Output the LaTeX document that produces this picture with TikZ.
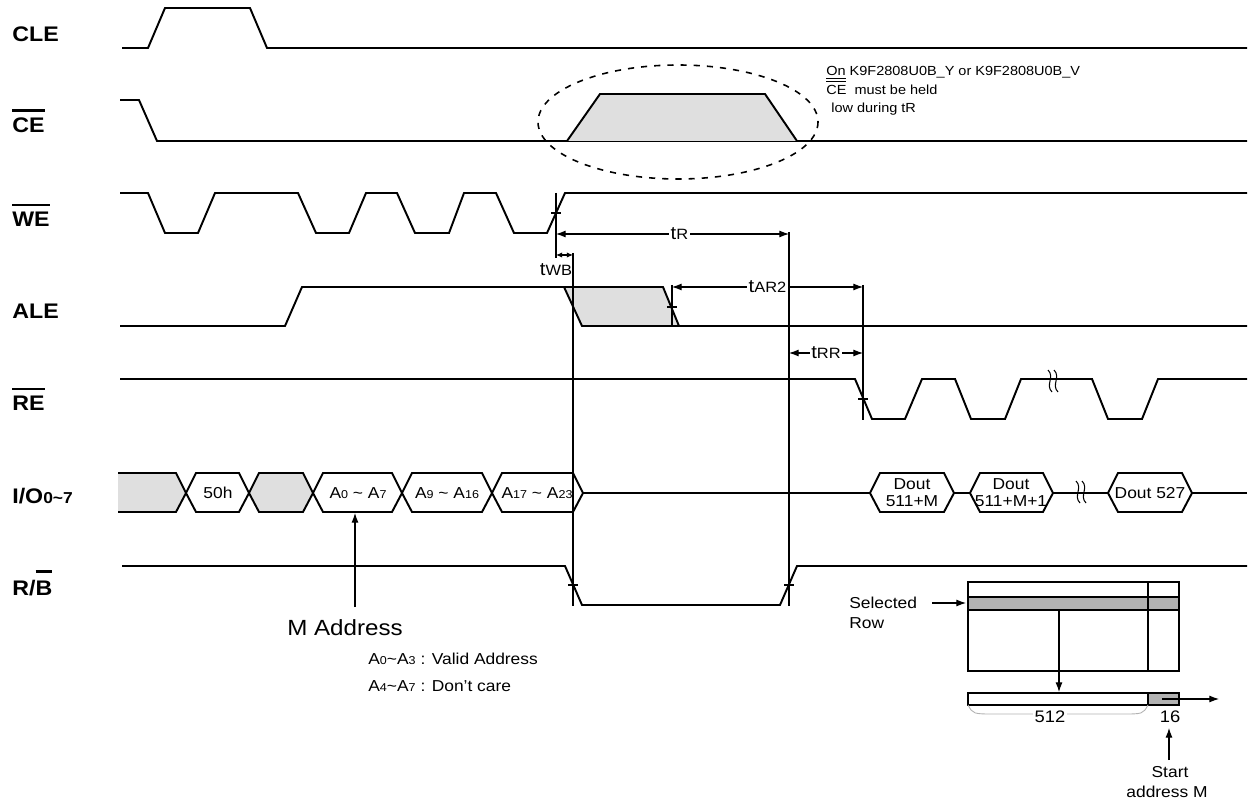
\documentclass[tikz,border=0pt]{standalone}
\usepackage{fontspec}
\setmainfont{Liberation Sans}[FakeStretch=1.1]
\usetikzlibrary{arrows.meta}

\newcommand\barred[3]{\vbox{\hrule height #1\kern #2\hbox{#3}}}
\newcommand\sml[1]{{\fontsize{6.5}{7}\selectfont #1}}
\newcommand\tlab[1]{t{\fontsize{8.5}{8.5}\selectfont #1}}

\begin{document}
\begin{tikzpicture}
[x=0.02cm,y=-0.02cm,>={Latex[length=5.5pt,width=4pt]},
  sig/.style={line width=1.1pt},
  thin line/.style={line width=0.6pt},
  sig name/.style={anchor=base west,inner sep=0pt,font=\fontsize{12}{12}\selectfont\bfseries},
  bus text/.style={inner sep=0pt,font=\fontsize{9}{9.6}\selectfont,align=center},
  time label/.style={fill=white,inner sep=1pt,font=\fontsize{10.5}{10.5}\selectfont},
  small text/.style={anchor=base west,inner sep=0pt,font=\fontsize{9}{9}\selectfont},
  note text/.style={anchor=base west,inner sep=0pt,font=\fontsize{7.5}{7.5}\selectfont},
  dont care/.style={fill=gray!25},
  row fill/.style={fill=gray!60}]

  \useasboundingbox (0,0) rectangle (1248,800);

  % signal names
  \node [sig name] (cle)  at (12,42)  {CLE};
  \node [sig name] (ce)   at (12,133) {\barred{1.2pt}{3.8pt}{CE}};
  \node [sig name] (we)   at (12,227) {\barred{1.2pt}{3.8pt}{WE}};
  \node [sig name] (ale)  at (12,319) {ALE};
  \node [sig name] (re)   at (12,411) {\barred{1.2pt}{3.8pt}{RE}};
  \node [sig name] (io)   at (12,503) {I/O{\fontsize{9}{9}\selectfont 0\textasciitilde7}};
  \node [sig name] (rb)   at (12,595) {R/\barred{1.2pt}{4.5pt}{B}};

  % waveforms
  \draw [sig] (122,48) -- (148,48) -- (165,8) -- (250,8) -- (267,48) -- (1247,48);
  \draw [sig] (120,100) -- (139,100) -- (157,141) -- (1247,141);
  \fill [dont care] (567,141) -- (600,94) -- (765,94) -- (797,141) -- cycle;
  \draw [sig] (567,141) -- (600,94) -- (765,94) -- (797,141);
  \draw [sig] (120,193) -- (148,193) -- (165,233) -- (198,233) -- (215,193) -- (298,193)
    -- (316,233) -- (349,233) -- (366,193) -- (397,193) -- (415,233) -- (449,233)
    -- (464,193) -- (496,193) -- (514,233) -- (547,233) -- (565,193) -- (1247,193);
  \fill [dont care] (564,287) -- (663,287) -- (679,326) -- (582,326) -- cycle;
  \draw [sig] (120,326) -- (285,326) -- (302,287) -- (564,287) -- (582,326) -- (1247,326);
  \draw [sig] (564,287) -- (663,287) -- (679,326);
  \draw [sig] (120,379) -- (855,379) -- (872,419) -- (905,419) -- (922,379) -- (955,379)
    -- (971,419) -- (1005,419) -- (1021,379) -- (1092,379) -- (1108,419) -- (1142,419)
    -- (1158,379) -- (1247,379);
  \draw [sig] (122,566) -- (565,566) -- (582,605) -- (780,605) -- (797,566) -- (1247,566);

  % I/O bus
  \fill [dont care] (118,473) -- (176,473) -- (186,493) -- (176,512) -- (118,512) -- cycle;
  \fill [dont care] (249,493) -- (259,473) -- (303,473) -- (313,493) -- (303,512) -- (259,512) -- cycle;
  \draw [sig] (118,473) -- (176,473) -- (186,493) -- (176,512) -- (118,512);
  \foreach \a/\b in {186/249,249/313,313/402,402/492,492/583,870/954,970/1053,1108/1192}
    \draw [sig] (\a,493) -- (\a+10,473) -- (\b-10,473) -- (\b,493) -- (\b-10,512) -- (\a+10,512) -- cycle;
  \foreach \a/\b in {583/870,954/970,1053/1108,1192/1247}
    \draw [sig] (\a,493) -- (\b,493);
  \node [bus text] (cmd)  at (218,493) {50h};
  \node [bus text] (col)  at (358,493) {A\sml{0} \textasciitilde{} A\sml{7}};
  \node [bus text] (row1) at (447,493) {A\sml{9} \textasciitilde{} A\sml{16}};
  \node [bus text] (row2) at (537,493) {A\sml{17} \textasciitilde{} A\sml{23}};
  \node [bus text] (d1)   at (912,493) {Dout\\511+M};
  \node [bus text] (d2)   at (1011,493) {Dout\\511+M+1};
  \node [bus text] (d3)   at (1150,493) {Dout 527};

  % breaks
  \foreach \x/\y in {1050/381,1056/381,1078/492,1084/492}
    \draw [thin line] (\x-2,\y-11) .. controls (\x+5,\y-4) and (\x-5,\y+4) .. (\x+2,\y+11);

  % CE note
  \draw [line width=0.9pt,dash pattern=on 3.5pt off 4pt] (678,122) ellipse (140 and 57);
  \node [note text] (note1) at (826,76)  {\underline{On} K9F2808U0B\_Y or K9F2808U0B\_V};
  \node [note text] (note2) at (826,95)  {\barred{0.7pt}{2pt}{CE}\ \ must be held};
  \node [note text] (note3) at (831,113) {low during tR};

  % timing
  \coordinate (weup)  at (556,193);
  \coordinate (busy)  at (573,253);
  \coordinate (ready) at (789,232);
  \coordinate (alelo) at (672,285);
  \coordinate (relo)  at (863,285);
  \draw [thin line] (weup) -- (556,258);
  \draw [thin line] (busy) -- (573,606);
  \draw [thin line] (ready) -- (789,606);
  \draw [thin line] (alelo) -- (672,327);
  \draw [thin line] (relo) -- (863,420);
  \foreach \x/\y in {556/213,672/307,863/399,573/585,789/585}
    \draw [thin line] (\x-5,\y) -- (\x+5,\y);

  \draw [thin line,<->] (556,234) -- node [time label,pos=.53] (tr) {\tlab{R}} (789,234);
  \draw [thin line,<->,>={Latex[length=3.5pt,width=3pt]}] (556,255) -- (573,255);
  \node [time label,fill=none] (twb) at (556,270) {\tlab{WB}};
  \draw [thin line,<->] (672,287) -- node [time label] (tar) {\tlab{AR2}} (863,287);
  \draw [thin line,<->] (789,353) -- node [time label] (trr) {\tlab{RR}} (863,353);

  % M address
  \node [inner sep=0pt,font=\fontsize{12.5}{13}\selectfont] (maddr) at (345,628) {M Address};
  \coordinate (mptr) at (355,607);
  \coordinate (colbot) at (355,513);
  \draw [thin line,->] (mptr) -- (colbot);
  \node [small text] (valid) at (368,664) {A\sml{0}\textasciitilde A\sml{3} : Valid Address};
  \node [small text] (dc)    at (368,691) {A\sml{4}\textasciitilde A\sml{7} : Don’t care};

  % page buffer
  \draw [thin line] (968,582) rectangle (1179,671);
  \filldraw [thin line,row fill] (968,597) rectangle (1179,610);
  \draw [thin line] (1148,582) -- (1148,671);
  \draw [thin line] (968,693) rectangle (1179,705);
  \filldraw [thin line,row fill] (1148,693) rectangle (1179,705);
  \node [small text] (sel) at (849,608) {Selected};
  \node [small text] (row) at (849,628) {Row};
  \coordinate (rowin) at (966,603);
  \draw [thin line,->] (932,603) -- (rowin);
  \coordinate (rowout) at (1059,610);
  \coordinate (bufin) at (1059,692);
  \draw [thin line,->] (rowout) -- (bufin);
  \coordinate (spare) at (1162,699);
  \coordinate (sout) at (1219,699);
  \draw [thin line,->] (spare) -- (sout);
  \draw [gray!60,line width=0.5pt] (968,705) .. controls (973,714) .. (995,714) -- (1122,714) .. controls (1143,714) .. (1148,705);
  \node [fill=white,inner sep=1pt,font=\fontsize{9.5}{9.5}\selectfont] (n512) at (1050,717) {512};
  \node [inner sep=0pt,font=\fontsize{9.5}{9.5}\selectfont] (n16) at (1170,717) {16};
  \coordinate (start) at (1169,760);
  \draw [thin line,->] (start) -- (1169,728);
  \node [anchor=base,inner sep=0pt,font=\fontsize{9}{9}\selectfont] (st1) at (1170,777) {Start};
  \node [anchor=base,inner sep=0pt,font=\fontsize{9}{9}\selectfont] (st2) at (1167,797) {address M};

\end{tikzpicture}
\end{document}
